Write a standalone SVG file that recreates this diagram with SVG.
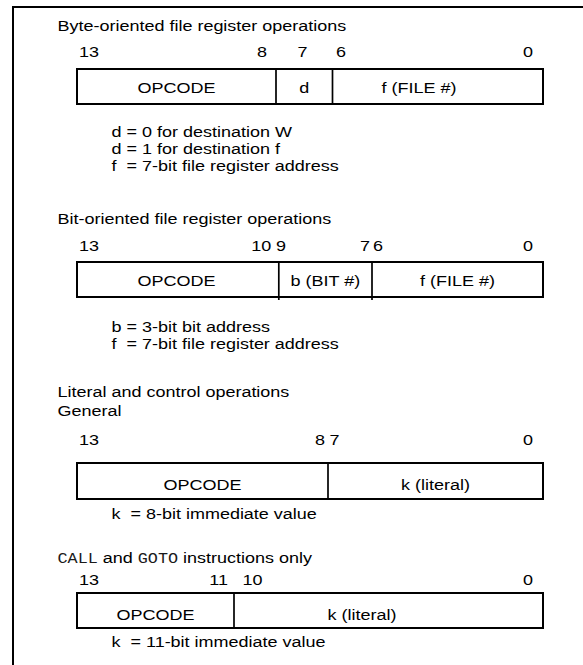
<svg xmlns="http://www.w3.org/2000/svg" width="583" height="665" viewBox="0 0 583 665">
<style>
.t{font-family:"Liberation Sans",Arial,Helvetica,sans-serif;font-size:15px;fill:#000}
.mono{font-family:"Liberation Mono","Courier New",monospace;font-size:14px;fill:#1a1a1a}
.s{text-anchor:start}.m{text-anchor:middle}.e{text-anchor:end}
.box{fill:#fff;stroke:#000;stroke-width:2}
.div{stroke:#000;stroke-width:1.7;fill:none}
.frame{stroke:#000;stroke-width:2;fill:none}
</style>
<rect width="583" height="665" fill="#fff"/>
<path class="frame" d="M583 7H13V665"/>

<g id="byte-oriented">
<text class="t s" transform="translate(57.5 31) scale(1.2 1)">Byte-oriented file register operations</text>
<text class="t s" transform="translate(79 57) scale(1.2 1)">13</text>
<text class="t e" transform="translate(267 57) scale(1.2 1)">8</text>
<text class="t m" transform="translate(302.5 57) scale(1.2 1)">7</text>
<text class="t s" transform="translate(336 57) scale(1.2 1)">6</text>
<text class="t e" transform="translate(533 57) scale(1.2 1)">0</text>
<rect class="box" x="77" y="69" width="466" height="35"/>
<path class="div" d="M276 69V104M332.5 69V104"/>
<text class="t m" transform="translate(176.5 92.5) scale(1.2 1)">OPCODE</text>
<text class="t m" transform="translate(304.3 92.5) scale(1.2 1)">d</text>
<text class="t m" transform="translate(419 92.5) scale(1.2 1)">f (FILE #)</text>
<text class="t s" transform="translate(111.5 137) scale(1.2 1)">d = 0 for destination W</text>
<text class="t s" transform="translate(111.5 154) scale(1.2 1)">d = 1 for destination f</text>
<text class="t s" transform="translate(111.5 171) scale(1.2 1)">f&#160; = 7-bit file register address</text>
</g>

<g id="bit-oriented">
<text class="t s" transform="translate(57.5 224) scale(1.2 1)">Bit-oriented file register operations</text>
<text class="t s" transform="translate(79 250.7) scale(1.2 1)">13</text>
<text class="t e" transform="translate(271.3 250.7) scale(1.2 1)">10</text>
<text class="t s" transform="translate(276 250.7) scale(1.2 1)">9</text>
<text class="t e" transform="translate(370 250.7) scale(1.2 1)">7</text>
<text class="t s" transform="translate(373 250.7) scale(1.2 1)">6</text>
<text class="t e" transform="translate(533 250.7) scale(1.2 1)">0</text>
<rect class="box" x="77" y="262" width="466" height="35"/>
<path class="div" d="M278.8 262V300M372 262V300"/>
<text class="t m" transform="translate(176.5 285.5) scale(1.2 1)">OPCODE</text>
<text class="t m" transform="translate(325.4 285.5) scale(1.2 1)">b (BIT #)</text>
<text class="t m" transform="translate(457.5 285.5) scale(1.2 1)">f (FILE #)</text>
<text class="t s" transform="translate(111.5 332) scale(1.2 1)">b = 3-bit bit address</text>
<text class="t s" transform="translate(111.5 349) scale(1.2 1)">f&#160; = 7-bit file register address</text>
</g>

<g id="literal-general">
<text class="t s" transform="translate(57.5 397) scale(1.2 1)">Literal and control operations</text>
<text class="t s" transform="translate(57.5 415.5) scale(1.2 1)">General</text>
<text class="t s" transform="translate(79 445) scale(1.2 1)">13</text>
<text class="t e" transform="translate(325 445) scale(1.2 1)">8</text>
<text class="t s" transform="translate(329.6 445) scale(1.2 1)">7</text>
<text class="t e" transform="translate(533 445) scale(1.2 1)">0</text>
<rect class="box" x="77" y="463" width="466" height="36"/>
<path class="div" d="M328 463V499"/>
<text class="t m" transform="translate(202.5 489.5) scale(1.2 1)">OPCODE</text>
<text class="t m" transform="translate(435.5 489.5) scale(1.2 1)">k (literal)</text>
<text class="t s" transform="translate(111.5 518.5) scale(1.2 1)">k&#160; = 8-bit immediate value</text>
</g>

<g id="call-goto">
<text class="t s" transform="translate(57.5 563) scale(1.2 1)"><tspan class="mono">CALL</tspan> and <tspan class="mono">GOTO</tspan> instructions only</text>
<text class="t s" transform="translate(79 585) scale(1.2 1)">13</text>
<text class="t e" transform="translate(228 585) scale(1.2 1)">11</text>
<text class="t s" transform="translate(242.4 585) scale(1.2 1)">10</text>
<text class="t e" transform="translate(533 585) scale(1.2 1)">0</text>
<rect class="box" x="77" y="593" width="466" height="35"/>
<path class="div" d="M234 593V628"/>
<text class="t m" transform="translate(155.5 620) scale(1.2 1)">OPCODE</text>
<text class="t m" transform="translate(362 620) scale(1.2 1)">k (literal)</text>
<text class="t s" transform="translate(111.5 647) scale(1.2 1)">k&#160; = 11-bit immediate value</text>
</g>
</svg>
